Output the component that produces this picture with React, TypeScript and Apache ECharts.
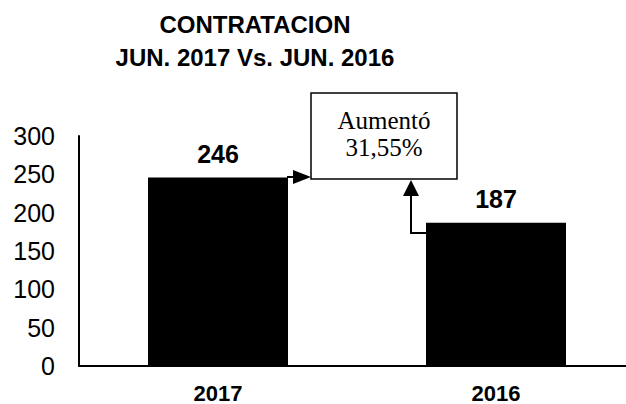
import React, { useEffect, useRef } from "react";
import * as echarts from "echarts";

const categories = ["2017", "2016"];
const values = [246, 187];
const yTicks = { min: 0, max: 300, interval: 50 };
const titleLines = ["CONTRATACION", "JUN. 2017 Vs. JUN. 2016"];
const noteLines = ["Aumentó", "31,55%"];

export default function App() {
  const ref = useRef<HTMLDivElement>(null);
  useEffect(() => {
    if (!ref.current) return;
    const chart = echarts.init(ref.current, null, { renderer: "svg" });
    chart.setOption({
      animation: false,
      backgroundColor: "#ffffff",
      title: {
        text: titleLines.join("\n"),
        left: 255,
        top: 8,
        padding: 0,
        textAlign: "center",
        textStyle: {
          fontFamily: "Liberation Sans, Arial, sans-serif",
          fontWeight: "bold",
          fontSize: 24,
          lineHeight: 33,
          color: "#000",
        },
      },
      grid: { left: 79, right: 5, top: 136, bottom: 36 },
      xAxis: {
        type: "category",
        data: categories,
        axisLine: { show: true, lineStyle: { color: "#000", width: 2 } },
        axisTick: { show: false },
        axisLabel: {
          margin: 16,
          color: "#000",
          fontFamily: "Liberation Sans, Arial, sans-serif",
          fontWeight: "bold",
          fontSize: 22,
        },
      },
      yAxis: {
        type: "value",
        min: yTicks.min,
        max: yTicks.max,
        interval: yTicks.interval,
        axisLine: { show: true, lineStyle: { color: "#000", width: 2 } },
        axisTick: { show: false },
        splitLine: { show: false },
        axisLabel: {
          margin: 24,
          color: "#000",
          fontFamily: "Liberation Sans, Arial, sans-serif",
          fontSize: 25,
        },
      },
      series: [
        {
          type: "bar",
          data: values,
          barWidth: 140,
          itemStyle: { color: "#000" },
          label: {
            show: true,
            position: "top",
            distance: 11,
            color: "#000",
            fontFamily: "Liberation Sans, Arial, sans-serif",
            fontWeight: "bold",
            fontSize: 25,
          },
        },
      ],
      graphic: [
        {
          type: "rect",
          shape: { x: 311, y: 93, width: 146, height: 86 },
          style: { fill: "#fff", stroke: "#000", lineWidth: 1.5 },
        },
        {
          type: "text",
          x: 384,
          y: 134,
          style: {
            text: noteLines.join("\n"),
            fill: "#000",
            fontFamily: "Liberation Serif, Times New Roman, serif",
            fontSize: 25,
            lineHeight: 27,
            align: "center",
            verticalAlign: "middle",
          },
        },
        {
          type: "line",
          shape: { x1: 287, y1: 177, x2: 295, y2: 177 },
          style: { stroke: "#000", lineWidth: 2 },
        },
        {
          type: "polygon",
          shape: { points: [[293, 170], [293, 184], [311, 177]] },
          style: { fill: "#000" },
        },
        {
          type: "polyline",
          shape: { points: [[428, 233], [411, 233], [411, 193]] },
          style: { stroke: "#000", lineWidth: 2, fill: null },
        },
        {
          type: "polygon",
          shape: { points: [[403, 196], [419, 196], [411, 180]] },
          style: { fill: "#000" },
        },
      ],
    });
    return () => chart.dispose();
  }, []);
  return (
    <div
      style={{
        position: "absolute",
        left: 0,
        top: 0,
        width: 626,
        height: 404,
        overflow: "hidden",
      }}
    >
      <div ref={ref} style={{ width: 640, height: 404 }} />
    </div>
  );
}
